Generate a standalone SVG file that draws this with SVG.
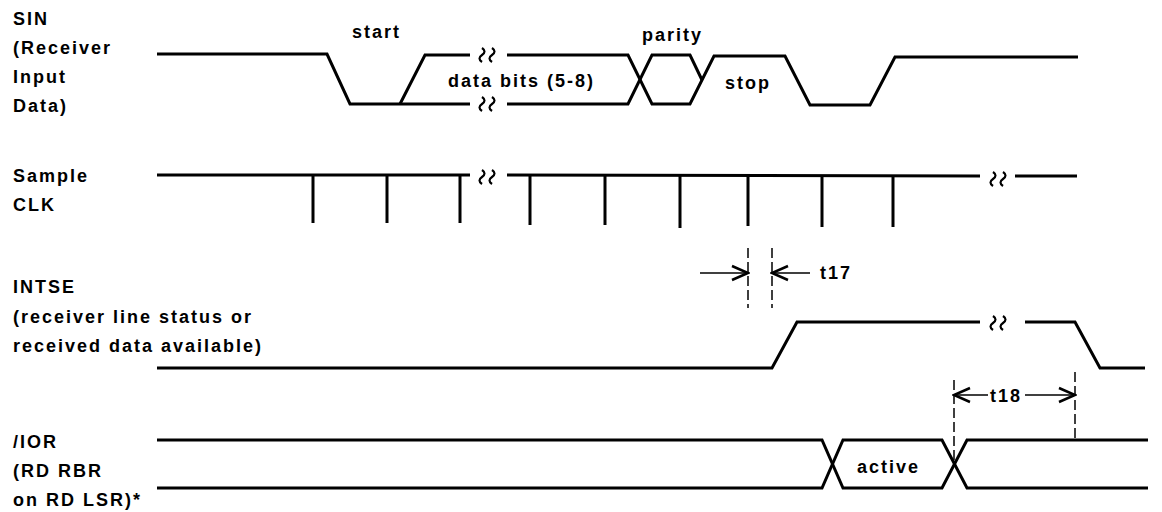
<svg xmlns="http://www.w3.org/2000/svg" width="1162" height="512" viewBox="0 0 1162 512">
<style>
  .sig{fill:none;stroke:#000;stroke-width:3;stroke-linejoin:miter;stroke-linecap:butt}
  .tick{fill:none;stroke:#000;stroke-width:3}
  .sq{fill:none;stroke:#000;stroke-width:2.2}
  .dash{fill:none;stroke:#000;stroke-width:1.5;stroke-dasharray:10,4}
  .arr{fill:none;stroke:#000;stroke-width:1.5}
  text{font-family:"Liberation Sans",Arial,sans-serif;font-size:18px;font-weight:bold;letter-spacing:2px;fill:#000}
</style>
<defs>
  <marker id="ah" markerUnits="userSpaceOnUse" markerWidth="20" markerHeight="18" refX="16" refY="7" orient="auto" viewBox="-2 -2 20 18">
    <path d="M0,0 L16,7 L0,14" fill="none" stroke="#000" stroke-width="2.5"/>
  </marker>
  <path id="sqg" d="M-6,-7 q5,3.5 0,7 q-5,3.5 0,7 M4,-7 q5,3.5 0,7 q-5,3.5 0,7" class="sq"/>
</defs>
<rect width="1162" height="512" fill="#fff"/>

<g id="sin">
  <text x="13" y="25">SIN</text>
  <text x="13" y="54">(Receiver</text>
  <text x="13" y="83">Input</text>
  <text x="13" y="112">Data)</text>
  <path class="sig" d="M157,54 L327,54 L350,104 L470,104"/>
  <path class="sig" d="M400,104 L425,55 L470,55"/>
  <use href="#sqg" x="488" y="55"/>
  <use href="#sqg" x="488" y="104"/>
  <path class="sig" d="M507,55 L628,55 L652,104 L690,104 L714,56 L785,56 L810,105 L870,105 L895,57 L1078,57"/>
  <path class="sig" d="M507,104 L628,104 L652,55 L690,55 L702,80"/>
  <text x="352" y="38">start</text>
  <text x="642" y="41">parity</text>
  <text x="448" y="87">data bits (5-8)</text>
  <text x="725" y="89">stop</text>
</g>

<g id="sample-clk">
  <text x="13" y="182">Sample</text>
  <text x="13" y="211">CLK</text>
  <path class="sig" d="M157,175 L470,175"/>
  <use href="#sqg" x="488" y="177"/>
  <path class="sig" d="M507,175 L980,176"/>
  <use href="#sqg" x="999" y="179"/>
  <path class="sig" d="M1015,176 L1077,176"/>
  <path class="tick" d="M313,175 V223 M387,175 V223 M460,175 V223 M530,175 V225 M605,175 V225 M680,175 V228 M748,176 V226 M822,176 V227 M893,176 V227"/>
</g>

<g id="intse">
  <text x="13" y="293">INTSE</text>
  <text x="13" y="323">(receiver line status or</text>
  <text x="13" y="352">received data available)</text>
  <path class="sig" d="M157,368 L772,368 L797,322 L980,322"/>
  <use href="#sqg" x="999" y="323"/>
  <path class="sig" d="M1025,322 L1075,322 L1100,368 L1145,368"/>
</g>

<g id="ior">
  <text x="13" y="448">/IOR</text>
  <text x="13" y="477">(RD RBR</text>
  <text x="13" y="506">on RD LSR)*</text>
  <path class="sig" d="M157,440 L822,440 L843,488 L942,488 L967,440 L1148,440"/>
  <path class="sig" d="M157,488 L822,488 L843,440 L942,440 L967,488 L1148,488"/>
  <text x="857" y="473">active</text>
</g>

<g id="connectors">
  <path class="dash" d="M748,248 V308"/>
  <path class="dash" d="M772,248 V308"/>
  <path class="arr" d="M700,273 L748,273" marker-end="url(#ah)"/>
  <path class="arr" d="M810,273 L772,273" marker-end="url(#ah)"/>
  <text x="820" y="279">t17</text>
  <path class="dash" d="M954,380 V465"/>
  <path class="dash" d="M1075,372 V440"/>
  <path class="arr" d="M988,395 L954,395" marker-end="url(#ah)"/>
  <path class="arr" d="M1025,395 L1075,395" marker-end="url(#ah)"/>
  <text x="990" y="402">t18</text>
</g>
</svg>
